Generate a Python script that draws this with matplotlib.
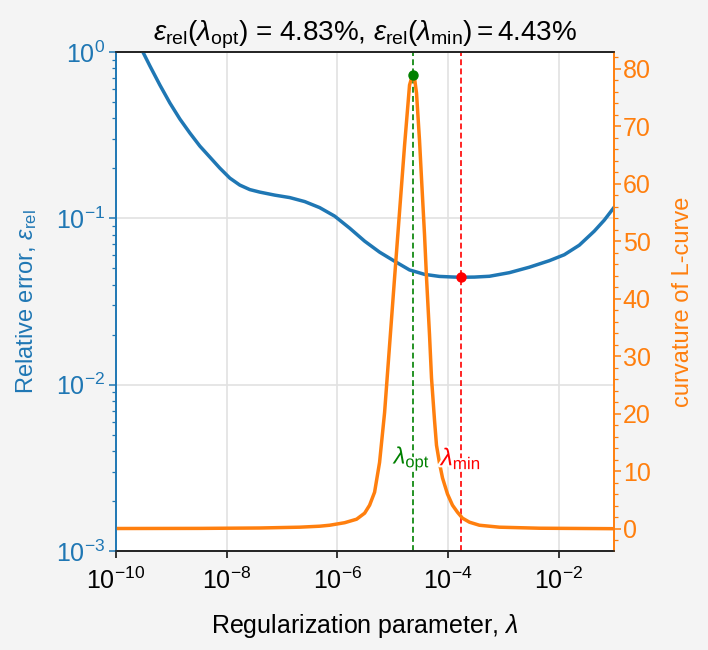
import matplotlib
matplotlib.use("Agg")
import matplotlib.pyplot as plt
import matplotlib.ticker as mtick
import matplotlib.transforms as mtrans
import matplotlib.patheffects as pe
import numpy as np

# ── 数据─────────────────────────────────────────────
# 相对误差曲线：log10(λ) 与相对误差
err_log_lam = [-10.0, -9.567, -9.513, -9.386, -9.206, -9.025, -8.845, -8.664,
               -8.484, -8.303, -8.123, -7.942, -7.762, -7.581, -7.401, -7.130,
               -6.859, -6.588, -6.318, -6.047, -5.776, -5.505, -5.235, -4.964,
               -4.693, -4.422, -4.152, -3.881, -3.755, -3.520, -3.249, -2.888,
               -2.527, -2.166, -1.895, -1.625, -1.354, -1.173, -1.0]
rel_err = [2.1, 1.072, 1.0, 0.824, 0.633, 0.4935, 0.3956, 0.3258,
           0.2721, 0.2336, 0.2006, 0.1747, 0.1586, 0.1490, 0.1439, 0.1380,
           0.1334, 0.1262, 0.1161, 0.1032, 0.0874, 0.0730, 0.0627, 0.0553,
           0.0490, 0.0461, 0.0448, 0.0444, 0.0443, 0.0444, 0.0449, 0.0472,
           0.0509, 0.0557, 0.0605, 0.0690, 0.0838, 0.0976, 0.1160]

# L-curve 曲率
curv_log_lam = [-10.0, -8.484, -7.401, -6.679, -6.318, -6.137, -5.866, -5.650,
                -5.505, -5.415, -5.325, -5.235, -5.144, -5.054, -4.964, -4.874,
                -4.783, -4.693, -4.639, -4.603, -4.567, -4.513, -4.477, -4.422,
                -4.386, -4.332, -4.296, -4.242, -4.206, -4.152, -4.097, -4.007,
                -3.917, -3.827, -3.736, -3.610, -3.430, -3.069, -2.347, -1.0]
curvature = [0.0, 0.02, 0.09, 0.23, 0.40, 0.57, 1.01, 1.62,
             2.67, 4.06, 6.32, 11.5, 20.2, 31.9, 43.6, 55.1,
             66.7, 77.2, 79.0, 78.4, 75.8, 67.6, 61.0, 51.1,
             43.6, 33.7, 26.2, 18.9, 14.5, 11.4, 8.8, 6.0,
             4.06, 2.84, 1.80, 1.10, 0.57, 0.23, 0.05, -0.03]

lam_opt_log, curv_opt = -4.639, 79.0
lam_min_log, err_min = -3.755, 0.0443

x_ticks = [1e-10, 1e-8, 1e-6, 1e-4, 1e-2]
y_ticks = [1e-3, 1e-2, 1e-1, 1e0]

BLUE = "#1f77b4"
ORANGE = "#ff7f0e"
FONT = "Liberation Sans"

plt.rcParams.update({
    "font.family": [FONT, "DejaVu Sans"],
    "mathtext.fontset": "custom",
    "mathtext.rm": FONT,
    "mathtext.it": FONT + ":italic",
    "mathtext.bf": FONT + ":bold",
    "axes.linewidth": 1.2,
})

fig = plt.figure(figsize=(7.08, 6.5), dpi=100, facecolor="#f4f4f4")
ax = fig.add_axes([0.1638, 0.152, 0.7032, 0.768])
ax2 = ax.twinx()

lam_err = np.power(10.0, err_log_lam)
lam_curv = np.power(10.0, curv_log_lam)
lam_opt = 10 ** lam_opt_log
lam_min = 10 ** lam_min_log

# 左轴：相对误差
ax.plot(lam_err, rel_err, color=BLUE, lw=2.5, zorder=3, solid_joinstyle="round")
ax.set_xscale("log")
ax.set_yscale("log")
ax.set_xlim(1e-10, 1e-1)
ax.set_ylim(1e-3, 1e0)
ax.axvline(lam_opt, color="green", ls=(0, (3.5, 2)), lw=1.2, zorder=2)
ax.axvline(lam_min, color="red", ls=(0, (3.5, 2)), lw=1.2, zorder=2)
ax.plot([lam_min], [err_min], "o", color="red", ms=6.5, zorder=5)

# 右轴：曲率
ax2.plot(lam_curv, curvature, color=ORANGE, lw=2.5, zorder=2, solid_joinstyle="round")
ax2.plot([lam_opt], [curv_opt], "o", color="green", ms=6.5, zorder=5)
ax2.set_ylim(-3.95, 82.95)
ax2.set_xlim(1e-10, 1e-1)

trans = mtrans.blended_transform_factory(ax2.transData, ax2.transAxes)
stroke = [pe.withStroke(linewidth=3, foreground="white")]
ax2.text(lam_opt, 0.186, r"$\lambda_{\mathrm{opt}}$", color="green", fontsize=17,
         ha="center", va="center", transform=trans, path_effects=stroke, zorder=6)
ax2.text(lam_min, 0.186, r"$\lambda_{\mathrm{min}}$", color="red", fontsize=17.5,
         ha="center", va="center", transform=trans, path_effects=stroke, zorder=6)

# 刻度
ax.xaxis.set_major_locator(mtick.FixedLocator(x_ticks))
ax.xaxis.set_minor_locator(mtick.NullLocator())
ax.yaxis.set_major_locator(mtick.FixedLocator(y_ticks))
ax.yaxis.set_minor_locator(mtick.LogLocator(base=10.0, subs=np.arange(2, 10), numticks=10))
ax.yaxis.set_minor_formatter(mtick.NullFormatter())
ax2.yaxis.set_major_locator(mtick.MultipleLocator(10))
ax2.yaxis.set_minor_locator(mtick.MultipleLocator(2))

ax.tick_params(axis="x", which="major", length=5, width=1.1, labelsize=18,
               colors="black", pad=7)
ax.tick_params(axis="y", which="major", length=5, width=1.1, labelsize=18,
               colors=BLUE, pad=3)
ax.tick_params(axis="y", which="minor", length=3, width=0.9, colors=BLUE)
ax2.tick_params(axis="y", which="major", length=5, width=1.1, labelsize=18,
                colors=ORANGE, pad=1.5)
ax2.tick_params(axis="y", which="minor", length=3, width=0.9, colors=ORANGE)

for a in (ax, ax2):
    a.spines["left"].set_color(BLUE)
    a.spines["right"].set_color(ORANGE)
    a.spines["top"].set_color("#222222")
    a.spines["bottom"].set_color("#222222")

ax.grid(True, which="major", color="#e2e2e2", lw=1.2, zorder=0)
ax.set_axisbelow(True)

ax.set_xlabel(r"Regularization parameter, $\lambda$", fontsize=18, labelpad=13)
ax.set_ylabel(r"Relative error, $\varepsilon_{\mathrm{rel}}$", fontsize=17,
              color=BLUE, labelpad=12)
ax2.set_ylabel("curvature of L-curve", fontsize=17, color=ORANGE, labelpad=15)
ax.set_title(r"$\varepsilon_{\mathrm{rel}}(\lambda_{\mathrm{opt}})$ = 4.83%, "
             r"$\varepsilon_{\mathrm{rel}}(\lambda_{\mathrm{min}}) = 4.43\%$",
             fontsize=20, pad=8)

fig.savefig("out.png", dpi=100, facecolor=fig.get_facecolor())
